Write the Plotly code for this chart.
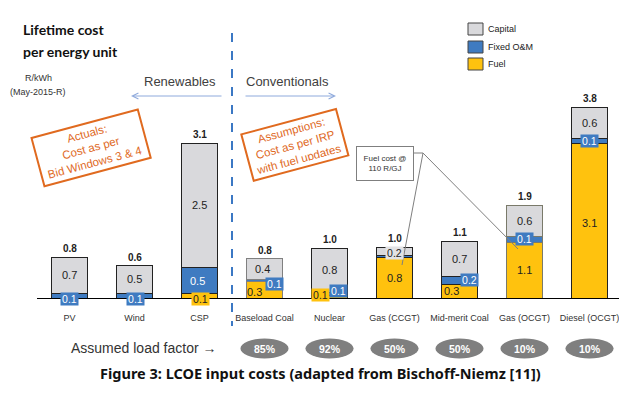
import plotly.graph_objects as go

# ---------------- data ----------------
categories = ["PV", "Wind", "CSP", "Baseload Coal", "Nuclear", "Gas (CCGT)",
              "Mid-merit Coal", "Gas (OCGT)", "Diesel (OCGT)"]
fuel = [0.0, 0.0, 0.10, 0.33, 0.06, 0.82, 0.28, 1.12, 3.10]
fixed_om = [0.10, 0.10, 0.52, 0.04, 0.06, 0.04, 0.16, 0.12, 0.10]
capital = [0.72, 0.55, 2.48, 0.42, 0.88, 0.16, 0.70, 0.62, 0.62]

total_labels = ["0.8", "0.6", "3.1", "0.8", "1.0", "1.0", "1.1", "1.9", "3.8"]
fuel_labels = ["", "", "0.1", "0.3", "0.1", "0.8", "0.3", "1.1", "3.1"]
om_labels = ["0.1", "0.1", "0.5", "0.1", "0.1", "", "0.2", "0.1", "0.1"]
capital_labels = ["0.7", "0.5", "2.5", "0.4", "0.8", "0.2", "0.7", "0.6", "0.6"]

load_factor_categories = ["Baseload Coal", "Nuclear", "Gas (CCGT)", "Mid-merit Coal",
                          "Gas (OCGT)", "Diesel (OCGT)"]
load_factors = ["85%", "92%", "50%", "50%", "10%", "10%"]

series_names = ["Fuel", "Fixed O&M", "Capital"]

# ---------------- style ----------------
W, H = 627, 393
OFF = 8            # page body margin offset
ML = 37 - OFF
PW = W - ML
PXU = 65.0         # px per category
PYU = 50.0         # px per unit
BASE = 298 - OFF
C_CAP, C_OM, C_FUEL = "#D9D9DC", "#3F7BC1", "#FFC20E"
series_colors = [C_FUEL, C_OM, C_CAP]
ORANGE = "#E06A1F"
FONT = "Liberation Sans"


def PX(x):
    return (x - OFF - ML) / PW


def PY(y):
    return 1 - (y - OFF) / H


def txt(x, y, text, size, color="#333", family=FONT, xa="center", **kw):
    d = dict(x=PX(x), y=PY(y), xref="paper", yref="paper", text=text, showarrow=False,
             xanchor=xa, yanchor="middle", font=dict(family=family, size=size, color=color))
    d.update(kw)
    return d


# label styles: (kind, xshift px, yshift px)
fuel_style = {"CSP": ("box", 1, -3), "Baseload Coal": ("plain", -10, -2),
              "Nuclear": ("box", -9, 1.5), "Mid-merit Coal": ("plain", -8, 0),
              "Diesel (OCGT)": ("plain", 0, -2.5)}
om_style = {"PV": ("box", 0, -3), "Wind": ("box", 1, -3), "CSP": ("white", -2, -1),
            "Baseload Coal": ("box", 10, -3), "Nuclear": ("box", 9, 2.5),
            "Mid-merit Coal": ("box", 10, 0), "Gas (OCGT)": ("box", 0, 0),
            "Diesel (OCGT)": ("box", 0, -0.5)}
cap_style = {"Gas (CCGT)": ("greybox", 0, -2), "Baseload Coal": ("plain", -2, 0)}

edge = ["#222"] * len(categories)
edge[3] = "#808080"
edge[7] = "#7a7a6a"

fig = go.Figure()
for name, vals, col in zip(series_names, [fuel, fixed_om, capital], series_colors):
    fig.add_bar(name=name, x=categories, y=vals, width=0.55, showlegend=False,
                marker=dict(color=col, line=dict(color=edge, width=1)))

ann = []


def seg_label(cat, text, ymid, spec, seg):
    kind, dx, dy = spec
    if not text:
        return
    a = dict(x=cat, y=ymid, xref="x", yref="y", text=text, showarrow=False,
             xanchor="center", yanchor="middle",
             xshift=dx, yshift=dy, font=dict(family=FONT, size=11, color="#222"))
    if kind == "box":
        bg = C_OM if seg == "om" else C_FUEL
        fc = "white" if seg == "om" else "#222"
        a.update(bgcolor=bg, width=15, height=10, borderpad=1,
                 font=dict(family=FONT, size=10.5, color=fc))
    elif kind == "greybox":
        a.update(bgcolor="#E2E2E4", width=15, height=10, borderpad=1,
                 font=dict(family=FONT, size=10.5, color="#222"))
    elif kind == "white":
        a["font"] = dict(family=FONT, size=11, color="white")
    ann.append(a)


for i, cat in enumerate(categories):
    f, o, c = fuel[i], fixed_om[i], capital[i]
    seg_label(cat, fuel_labels[i], f / 2, fuel_style.get(cat, ("plain", 0, 0)), "fuel")
    seg_label(cat, om_labels[i], f + o / 2, om_style.get(cat, ("box", 0, 0)), "om")
    seg_label(cat, capital_labels[i], f + o + c / 2, cap_style.get(cat, ("plain", 0, 0)), "cap")
    ann.append(dict(x=cat, y=f + o + c, xref="x", yref="y", text="<b>" + total_labels[i] + "</b>",
                    showarrow=False, xanchor="center", yanchor="bottom", yshift=1,
                    font=dict(family=FONT, size=10, color="#222")))

ann += [
    txt(21, 30, "<b>Lifetime cost</b>", 14, "#111", "Lato", xa="left"),
    txt(21, 51, "<b>per energy unit</b>", 14, "#111", "Lato", xa="left"),
    txt(38, 78, "R/kWh", 9),
    txt(38, 92, "(May-2015-R)", 9),
    txt(180, 81, "Renewables", 13, "#404040"),
    txt(244, 81, "Conventionals", 13, "#404040", xa="left"),
    # arrows
    dict(x=PX(131), y=PY(96), xref="paper", yref="paper", text="", showarrow=True,
         ax=92, ay=0, axref="pixel", ayref="pixel", arrowhead=5, arrowsize=1.2,
         arrowwidth=1, arrowcolor="#8FAADC"),
    dict(x=PX(336), y=PY(96), xref="paper", yref="paper", text="", showarrow=True,
         ax=-92, ay=0, axref="pixel", ayref="pixel", arrowhead=5, arrowsize=1.2,
         arrowwidth=1, arrowcolor="#8FAADC"),
    # rotated stamps
    txt(90.5, 147.5, "Actuals:<br>Cost as per<br>Bid Windows 3 & 4", 11.5, ORANGE,
        textangle=-15, width=100, height=40, borderpad=4, borderwidth=2, bordercolor=ORANGE),
    txt(294.5, 145.5, "Assumptions:<br>Cost as per IRP<br>with fuel updates", 11.5, ORANGE,
        textangle=-15, width=88, height=38, borderpad=4, borderwidth=2, bordercolor=ORANGE),
    # fuel cost callout
    txt(385, 163.5, "Fuel cost @<br>110 R/GJ", 8, "#333", width=54, height=31,
        borderpad=1, borderwidth=1, bordercolor="#7F7F7F", bgcolor="white"),
    # load factor row
    txt(69, 348, "Assumed load factor →", 14, "#333", xa="left"),
    # caption
    txt(320, 373, "<b>Figure 3: LCOE input costs (adapted from Bischoff-Niemz [11])</b>",
        14.5, "#111", "Noto Sans"),
]

shapes = [
    dict(type="line", xref="x", yref="paper", x0=2.5, x1=2.5, y0=PY(33), y1=PY(326),
         line=dict(color="#3B78C4", width=2, dash="dash")),
    dict(type="line", xref="paper", yref="paper", x0=PX(414), x1=PX(423), y0=PY(153), y1=PY(153),
         line=dict(color="#7F7F7F", width=1)),
    dict(type="line", xref="paper", yref="paper", x0=PX(423), x1=PX(402), y0=PY(153), y1=PY(265),
         line=dict(color="#7F7F7F", width=1)),
    dict(type="line", xref="paper", yref="paper", x0=PX(423), x1=PX(518), y0=PY(153), y1=PY(249),
         line=dict(color="#7F7F7F", width=1)),
]

# manual legend (Capital on top, Fuel at bottom)
legend_rows = [29, 47, 64]
for row_y, name, col in zip(legend_rows, series_names[::-1], series_colors[::-1]):
    shapes.append(dict(type="rect", xref="paper", yref="paper", x0=PX(468), x1=PX(483),
                       y0=PY(row_y + 6), y1=PY(row_y - 6), fillcolor=col,
                       line=dict(color="#444", width=1)))
    ann.append(txt(486, row_y, name, 9, "#222", xa="left"))

for cat, lf in zip(load_factor_categories, load_factors):
    i = categories.index(cat)
    shapes.append(dict(type="circle", xref="x", yref="paper", x0=i - 0.37, x1=i + 0.37,
                       y0=PY(358.5), y1=PY(338.5), fillcolor="#7F7F7F", line=dict(width=0)))
    ann.append(dict(x=cat, y=PY(348.5), xref="x", yref="paper", text="<b>" + lf + "</b>",
                    showarrow=False, xanchor="center", yanchor="middle",
                    font=dict(family=FONT, size=10.5, color="white")))

fig.update_layout(
    width=W, height=H, barmode="stack", showlegend=False,
    margin=dict(l=ML, r=0, t=0, b=0, autoexpand=False),
    paper_bgcolor="white", plot_bgcolor="white",
    annotations=ann, shapes=shapes,
    font=dict(family=FONT),
    xaxis=dict(range=[-0.5, -0.5 + PW / PXU], anchor="free", position=1 - BASE / H,
               showline=True, linecolor="black", linewidth=1, ticks="outside",
               ticklen=11, tickcolor="rgba(0,0,0,0)", showgrid=False, zeroline=False,
               tickfont=dict(family=FONT, size=9, color="#333")),
    yaxis=dict(range=[-(H - BASE) / PYU, BASE / PYU], visible=False,
               showgrid=False, zeroline=False),
)

fig.write_html("out.html")
